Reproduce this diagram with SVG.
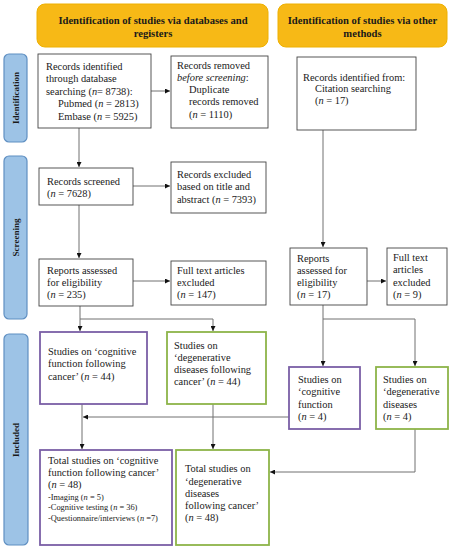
<svg xmlns="http://www.w3.org/2000/svg" width="456" height="550" viewBox="0 0 456 550" font-family="Liberation Serif, Times New Roman, serif">
<style>
text{font-family:'Liberation Serif','Times New Roman','DejaVu Serif',serif;font-size:10.4px;fill:#1a1a1a}
.hd{font-weight:bold;font-size:10.6px;text-anchor:middle}
.side{font-weight:bold;font-size:9px;text-anchor:middle}
.sm{font-size:8.4px}
.yel{fill:#f7b916;stroke:#eeb000;stroke-width:1}
.bar{fill:#9dc3e6;stroke:#5f8fc2;stroke-width:1.2}
.box{fill:#fff;stroke:#444;stroke-width:0.9}
.pur{fill:#fff;stroke:#7a5fa6;stroke-width:1.8}
.grn{fill:#fff;stroke:#8db449;stroke-width:1.8}
.ln{fill:none;stroke:#707070;stroke-width:1}
</style>
<defs>
<marker id="ah" viewBox="0 0 10 10" refX="10" refY="5" markerWidth="5" markerHeight="5" orient="auto" markerUnits="userSpaceOnUse">
<path d="M0,0 L10,5 L0,10 z" fill="#111"/>
</marker>
</defs>
<rect width="456" height="550" fill="#fff"/>

<g id="header-db"><rect class="yel" x="37" y="4" width="231" height="43" rx="8"/>
<text class="hd" x="153" y="24">Identification of studies via databases and</text>
<text class="hd" x="153" y="37">registers</text></g>
<g id="header-other"><rect class="yel" x="278" y="4" width="169" height="43" rx="8"/>
<text class="hd" x="362.5" y="24">Identification of studies via other</text>
<text class="hd" x="362.5" y="37">methods</text></g>

<g id="bar-identification"><rect class="bar" x="4" y="54" width="23" height="88" rx="5"/>
<text class="side" transform="translate(18.5,98) rotate(-90)">Identification</text></g>
<g id="bar-screening"><rect class="bar" x="4" y="156" width="23" height="163" rx="5"/>
<text class="side" transform="translate(18.5,237.5) rotate(-90)">Screening</text></g>
<g id="bar-included"><rect class="bar" x="4" y="334" width="24" height="211" rx="5"/>
<text class="side" transform="translate(19,440) rotate(-90)">Included</text></g>

<g id="connectors">
<path class="ln" d="M151,91 H170" marker-end="url(#ah)"/>
<path class="ln" d="M79,128 V167" marker-end="url(#ah)"/>
<path class="ln" d="M133,186 H170" marker-end="url(#ah)"/>
<path class="ln" d="M79,205 V258" marker-end="url(#ah)"/>
<path class="ln" d="M133,281 H170" marker-end="url(#ah)"/>
<path class="ln" d="M323,130 V247" marker-end="url(#ah)"/>
<path class="ln" d="M367,281 H386" marker-end="url(#ah)"/>
<path class="ln" d="M80,306 V331" marker-end="url(#ah)"/>
<path class="ln" d="M80,319 H213 V331" marker-end="url(#ah)"/>
<path class="ln" d="M323,305 V366" marker-end="url(#ah)"/>
<path class="ln" d="M323,319 H415 V366" marker-end="url(#ah)"/>
<path class="ln" d="M82,404 V449" marker-end="url(#ah)"/>
<path class="ln" d="M289,417 H83" marker-end="url(#ah)"/>
<path class="ln" d="M213,404 V449" marker-end="url(#ah)"/>
<path class="ln" d="M415,429 V472 H270" marker-end="url(#ah)"/>
</g>

<g id="records-identified"><rect class="box" x="38" y="54" width="113" height="74"/>
<text x="46" y="70">Records identified</text>
<text x="46" y="82">through database</text>
<text x="46" y="95">searching (<tspan font-style="italic">n</tspan>= 8738):</text>
<text x="58" y="107">Pubmed (<tspan font-style="italic">n</tspan> = 2813)</text>
<text x="58" y="120">Embase (<tspan font-style="italic">n</tspan> = 5925)</text></g>

<g id="records-removed"><rect class="box" x="171" y="56" width="97" height="72"/>
<text x="177" y="69">Records removed</text>
<text x="177" y="81" font-style="italic">before screening<tspan font-style="normal">:</tspan></text>
<text x="189" y="93">Duplicate</text>
<text x="189" y="105">records removed</text>
<text x="189" y="118">(<tspan font-style="italic">n</tspan> = 1110)</text></g>

<g id="records-citation"><rect class="box" x="297" y="57" width="119" height="73"/>
<text x="303" y="81">Records identified from:</text>
<text x="315" y="92">Citation searching</text>
<text x="315" y="104">(<tspan font-style="italic">n</tspan> = 17)</text></g>

<g id="records-screened"><rect class="box" x="39" y="168" width="94" height="37"/>
<text x="47" y="185">Records screened</text>
<text x="47" y="197">(<tspan font-style="italic">n</tspan> = 7628)</text></g>

<g id="records-excluded"><rect class="box" x="171" y="162" width="95" height="51"/>
<text x="177" y="178">Records excluded</text>
<text x="177" y="190">based on title and</text>
<text x="177" y="203">abstract (<tspan font-style="italic">n</tspan> = 7393)</text></g>

<g id="reports-assessed"><rect class="box" x="39" y="259" width="94" height="47"/>
<text x="47" y="274">Reports assessed</text>
<text x="47" y="286">for eligibility</text>
<text x="47" y="298">(<tspan font-style="italic">n</tspan> = 235)</text></g>

<g id="fulltext-excluded"><rect class="box" x="171" y="261" width="95" height="44"/>
<text x="177" y="274">Full text articles</text>
<text x="177" y="286">excluded</text>
<text x="177" y="298">(<tspan font-style="italic">n</tspan> = 147)</text></g>

<g id="reports-assessed-other"><rect class="box" x="290" y="248" width="77" height="57"/>
<text x="297" y="262">Reports</text>
<text x="297" y="274">assessed for</text>
<text x="297" y="286">eligibility</text>
<text x="297" y="298">(<tspan font-style="italic">n</tspan> = 17)</text></g>

<g id="fulltext-excluded-other"><rect class="box" x="387" y="248" width="60" height="57"/>
<text x="393" y="261">Full text</text>
<text x="393" y="273">articles</text>
<text x="393" y="286">excluded</text>
<text x="393" y="298">(<tspan font-style="italic">n</tspan> = 9)</text></g>

<g id="studies-cognitive"><rect class="pur" x="40" y="332" width="107" height="72"/>
<text x="48" y="355">Studies on ‘cognitive</text>
<text x="48" y="367">function following</text>
<text x="48" y="380">cancer’ (<tspan font-style="italic">n</tspan> = 44)</text></g>

<g id="studies-degenerative"><rect class="grn" x="167" y="332" width="99" height="72"/>
<text x="174" y="349">Studies on</text>
<text x="174" y="361">‘degenerative</text>
<text x="174" y="373">diseases following</text>
<text x="174" y="385">cancer’ (<tspan font-style="italic">n</tspan> = 44)</text></g>

<g id="studies-cognitive-other"><rect class="pur" x="289" y="367" width="71" height="62"/>
<text x="298" y="383">Studies on</text>
<text x="298" y="395">‘cognitive</text>
<text x="298" y="408">function</text>
<text x="298" y="420">(<tspan font-style="italic">n</tspan> = 4)</text></g>

<g id="studies-degenerative-other"><rect class="grn" x="376" y="367" width="72" height="62"/>
<text x="383" y="383">Studies on</text>
<text x="383" y="395">‘degenerative</text>
<text x="383" y="408">diseases</text>
<text x="383" y="420">(<tspan font-style="italic">n</tspan> = 4)</text></g>

<g id="total-cognitive"><rect class="pur" x="40" y="450" width="132" height="95"/>
<text x="48" y="464">Total studies on ‘cognitive</text>
<text x="48" y="476">function following cancer’</text>
<text x="48" y="488">(<tspan font-style="italic">n</tspan> = 48)</text>
<text class="sm" x="48" y="499.5">-Imaging (<tspan font-style="italic">n</tspan> = 5)</text>
<text class="sm" x="48" y="510">-Cognitive testing (<tspan font-style="italic">n</tspan> = 36)</text>
<text class="sm" x="48" y="520.5">-Questionnaire/interviews (<tspan font-style="italic">n</tspan> =7)</text></g>

<g id="total-degenerative"><rect class="grn" x="176" y="450" width="93" height="95"/>
<text x="185" y="472">Total studies on</text>
<text x="185" y="485">‘degenerative</text>
<text x="185" y="497">diseases</text>
<text x="185" y="509">following cancer’</text>
<text x="185" y="521">(<tspan font-style="italic">n</tspan> = 48)</text></g>
</svg>
